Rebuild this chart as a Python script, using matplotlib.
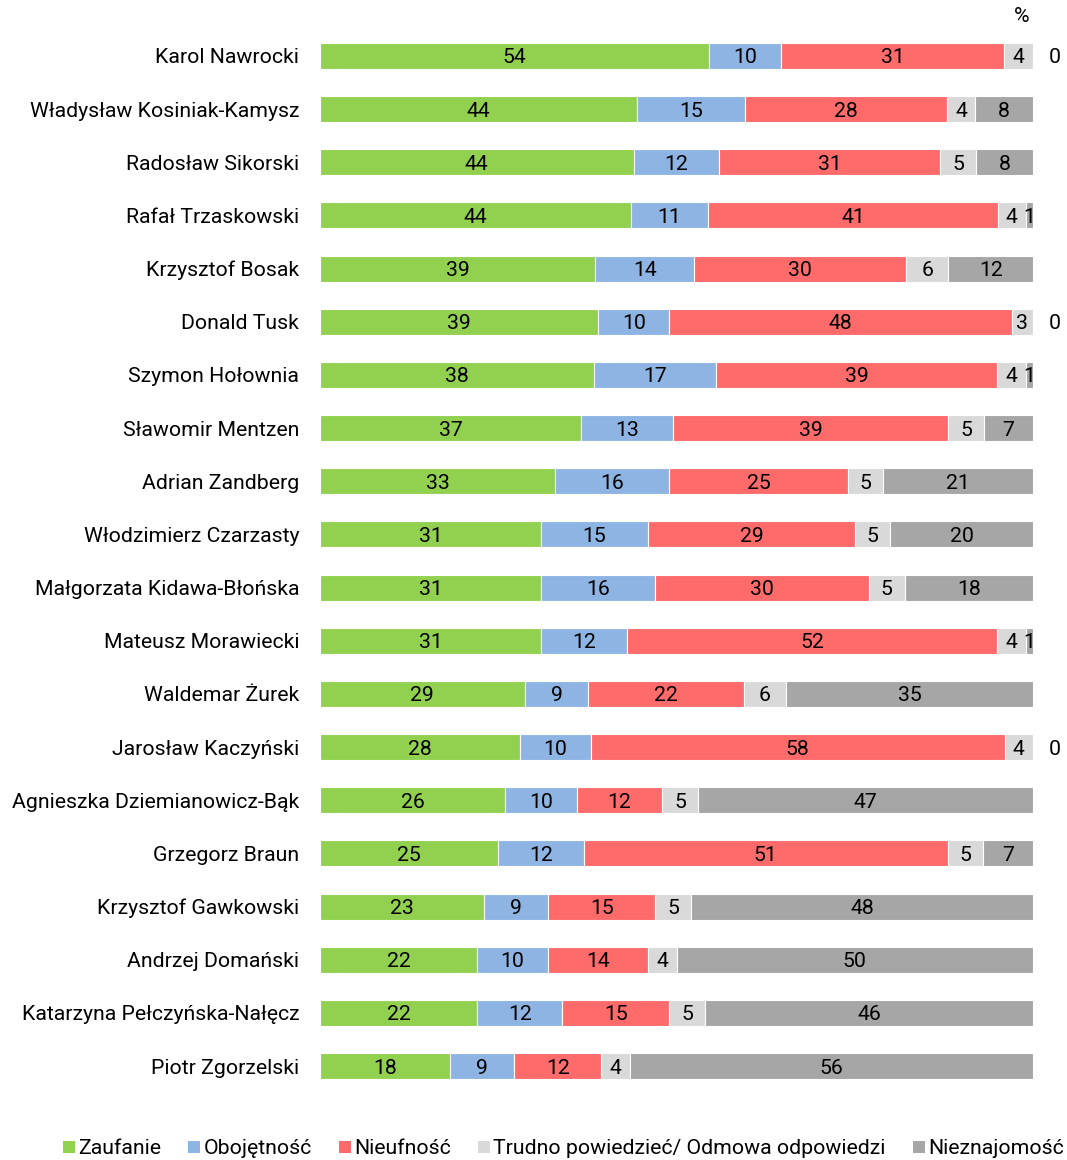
import numpy as np
import matplotlib
matplotlib.use('Agg')
import matplotlib.pyplot as plt
from matplotlib.patches import Patch

plt.rcParams['font.family'] = ['Roboto', 'DejaVu Sans']

# Data
names = ['Karol Nawrocki', 'Władysław Kosiniak-Kamysz', 'Radosław Sikorski', 'Rafał Trzaskowski',
         'Krzysztof Bosak', 'Donald Tusk', 'Szymon Hołownia', 'Sławomir Mentzen', 'Adrian Zandberg',
         'Włodzimierz Czarzasty', 'Małgorzata Kidawa-Błońska', 'Mateusz Morawiecki', 'Waldemar Żurek',
         'Jarosław Kaczyński', 'Agnieszka Dziemianowicz-Bąk', 'Grzegorz Braun', 'Krzysztof Gawkowski',
         'Andrzej Domański', 'Katarzyna Pełczyńska-Nałęcz', 'Piotr Zgorzelski']
zaufanie = [54, 44, 44, 44, 39, 39, 38, 37, 33, 31, 31, 31, 29, 28, 26, 25, 23, 22, 22, 18]
obojetnosc = [10, 15, 12, 11, 14, 10, 17, 13, 16, 15, 16, 12, 9, 10, 10, 12, 9, 10, 12, 9]
nieufnosc = [31, 28, 31, 41, 30, 48, 39, 39, 25, 29, 30, 52, 22, 58, 12, 51, 15, 14, 15, 12]
trudno = [4, 4, 5, 4, 6, 3, 4, 5, 5, 5, 5, 4, 6, 4, 5, 5, 5, 4, 5, 4]
nieznajomosc = [0, 8, 8, 1, 12, 0, 1, 7, 21, 20, 18, 1, 35, 0, 47, 7, 48, 50, 46, 56]

series = [zaufanie, obojetnosc, nieufnosc, trudno, nieznajomosc]
labels = ['Zaufanie', 'Obojętność', 'Nieufność', 'Trudno powiedzieć/ Odmowa odpowiedzi', 'Nieznajomość']
colors = ['#92D050', '#8DB4E2', '#FF6B6B', '#D9D9D9', '#A6A6A6']

vals = np.array(series, dtype=float)
totals = vals.sum(axis=0)
pct = vals / totals * 100

fig = plt.figure(figsize=(10.67, 11.6), dpi=100)
ax = fig.add_axes([0.2999, 0.0581, 0.6683, 0.9166])

y = np.arange(len(names))
left = np.zeros(len(names))
fs = 15.3
for k in range(len(series)):
    ax.barh(y, pct[k], left=left, height=0.49, color=colors[k], edgecolor='white', linewidth=0.8)
    for i in range(len(names)):
        v = vals[k, i]
        if v == 0:
            ax.text(103.1, y[i], '0', ha='center', va='center_baseline', fontsize=fs, color='#000000')
        else:
            ax.text(left[i] + pct[k, i] / 2, y[i], '%d' % v, ha='center', va='center_baseline',
                    fontsize=fs, color='#000000')
    left += pct[k]

ax.set_xlim(0, 100)
ax.set_ylim(len(names) - 0.5, -0.5)
ax.set_yticks(y)
ax.set_yticklabels(names, fontsize=fs, va='center_baseline')
ax.tick_params(axis='y', length=0, pad=15)
ax.set_xticks([])
for s in ax.spines.values():
    s.set_visible(False)

fig.text(1022 / 1067, 1 - 17 / 1160, '%', ha='center', va='center', fontsize=fs)

handles = [Patch(facecolor=c, edgecolor='none') for c in colors]
fig.legend(handles, labels, loc='center', bbox_to_anchor=(0.528, 1 - 1149 / 1160), ncol=5,
           frameon=False, fontsize=fs, handlelength=0.55, handleheight=0.55,
           handletextpad=0.15, columnspacing=1.3, borderpad=0)

plt.savefig('out.png', dpi=100)
